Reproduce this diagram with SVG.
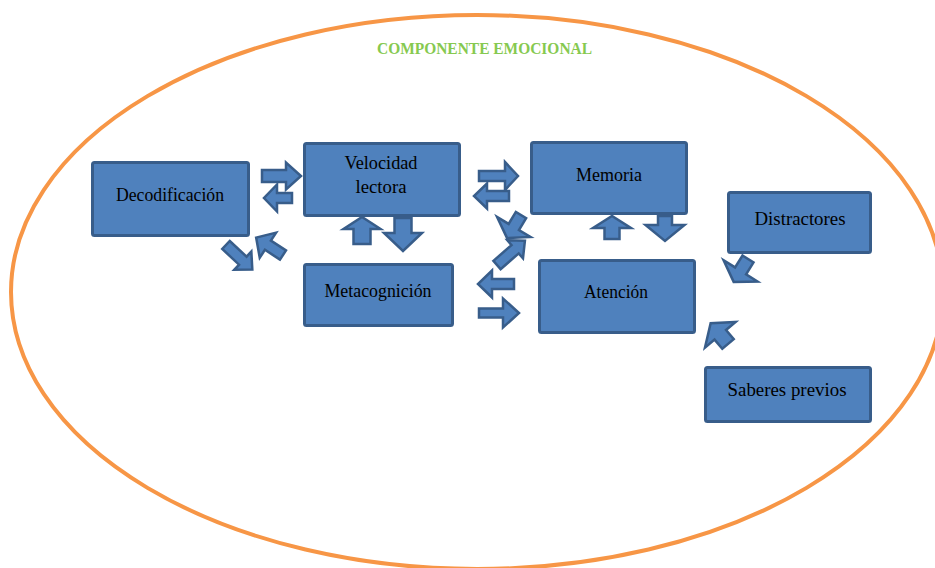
<svg xmlns="http://www.w3.org/2000/svg" width="935" height="568" viewBox="0 0 935 568">
<style>
.box{fill:#4f81bd;stroke:#385d8a;stroke-width:3}
.arr{fill:#4f81bd;stroke:#385d8a;stroke-width:2.5;stroke-linejoin:miter}
.lbl{font-family:"Liberation Serif","Times New Roman",serif;font-size:18px;fill:#000;text-anchor:middle}
.title{font-family:"Liberation Serif","Times New Roman",serif;font-size:17px;font-weight:bold;fill:#86c94f}
</style>
<rect x="0" y="0" width="935" height="568" fill="#ffffff"/>
<ellipse id="componente-emocional" cx="477" cy="292" rx="466" ry="277" fill="none" stroke="#f79646" stroke-width="4"/>
<text class="title" x="377" y="54" textLength="215" lengthAdjust="spacingAndGlyphs">COMPONENTE EMOCIONAL</text>

<g id="decodificacion">
<rect class="box" x="92.5" y="162.5" width="156" height="73" rx="2"/>
<text class="lbl" x="170" y="201" textLength="108" lengthAdjust="spacingAndGlyphs">Decodificación</text>
</g>
<g id="velocidad-lectora">
<rect class="box" x="304.5" y="143.5" width="155" height="72" rx="2"/>
<text class="lbl" x="381" y="169" textLength="73" lengthAdjust="spacingAndGlyphs">Velocidad</text>
<text class="lbl" x="381" y="193" textLength="51" lengthAdjust="spacingAndGlyphs">lectora</text>
</g>
<g id="metacognicion">
<rect class="box" x="304.5" y="264.5" width="148" height="61" rx="2"/>
<text class="lbl" x="378" y="297" textLength="107" lengthAdjust="spacingAndGlyphs">Metacognición</text>
</g>
<g id="memoria">
<rect class="box" x="531.5" y="142.5" width="155" height="71" rx="2"/>
<text class="lbl" x="609" y="181" textLength="66" lengthAdjust="spacingAndGlyphs">Memoria</text>
</g>
<g id="atencion">
<rect class="box" x="539.5" y="260.5" width="155" height="72" rx="2"/>
<text class="lbl" x="616" y="298" textLength="64" lengthAdjust="spacingAndGlyphs">Atención</text>
</g>
<g id="distractores">
<rect class="box" x="728.5" y="192.5" width="142" height="60" rx="2"/>
<text class="lbl" x="800" y="225" textLength="91" lengthAdjust="spacingAndGlyphs">Distractores</text>
</g>
<g id="saberes-previos">
<rect class="box" x="705.5" y="367.5" width="165" height="54" rx="2"/>
<text class="lbl" x="787" y="396" textLength="119" lengthAdjust="spacingAndGlyphs">Saberes previos</text>
</g>

<g id="connectors">
<!-- Decodificacion <-> Velocidad -->
<polygon class="arr" transform="translate(262,176)" points="0,-6 24,-6 24,-13.5 39,0 24,13.5 24,6 0,6"/>
<polygon class="arr" transform="translate(292,198) rotate(180)" points="0,-5 15,-5 15,-13.5 28,0 15,13.5 15,5 0,5"/>
<!-- Decodificacion <-> Metacognicion -->
<polygon class="arr" transform="translate(226,245) rotate(43)" points="0,-5.5 23,-5.5 23,-12.5 36,0 23,12.5 23,5.5 0,5.5"/>
<polygon class="arr" transform="translate(283,255) rotate(213)" points="0,-5.5 18,-5.5 18,-15 32,0 18,15 18,5.5 0,5.5"/>
<!-- Velocidad <-> Metacognicion -->
<polygon class="arr" transform="translate(362,244) rotate(-90)" points="0,-8.5 15,-8.5 15,-18.5 27,0 15,18.5 15,8.5 0,8.5"/>
<polygon class="arr" transform="translate(403,218) rotate(90)" points="0,-8.5 15,-8.5 15,-19 33,0 15,19 15,8.5 0,8.5"/>
<!-- Velocidad <-> Memoria -->
<polygon class="arr" transform="translate(479,176)" points="0,-5 26,-5 26,-14 39,0 26,14 26,5 0,5"/>
<polygon class="arr" transform="translate(509,196) rotate(180)" points="0,-5 22,-5 22,-12.5 35,0 22,12.5 22,5 0,5"/>
<!-- Memoria <-> Metacognicion (diagonal) -->
<polygon class="arr" transform="translate(521,215) rotate(121)" points="0,-6 14,-6 14,-19.5 27,0 14,19.5 14,6 0,6"/>
<polygon class="arr" transform="translate(497,265) rotate(-41)" points="0,-5.5 24,-5.5 24,-12 37,0 24,12 24,5.5 0,5.5"/>
<!-- Metacognicion <-> Atencion -->
<polygon class="arr" transform="translate(514,284) rotate(180)" points="0,-5 22,-5 22,-13.5 36,0 22,13.5 22,5 0,5"/>
<polygon class="arr" transform="translate(479,313)" points="0,-4.5 24,-4.5 24,-14.5 40,0 24,14.5 24,4.5 0,4.5"/>
<!-- Memoria <-> Atencion -->
<polygon class="arr" transform="translate(612,239) rotate(-90)" points="0,-7.5 11,-7.5 11,-19 23,0 11,19 11,7.5 0,7.5"/>
<polygon class="arr" transform="translate(665,216) rotate(90)" points="0,-7 9,-7 9,-19.5 25,0 9,19.5 9,7 0,7"/>
<!-- Distractores -> Atencion -->
<polygon class="arr" transform="translate(748,259) rotate(122)" points="0,-6.5 14,-6.5 14,-20 27,0 14,20 14,6.5 0,6.5"/>
<!-- Saberes previos -> Atencion -->
<polygon class="arr" transform="translate(728,344) rotate(230)" points="0,-7.5 12,-7.5 12,-20 27,0 12,20 12,7.5 0,7.5"/>
</g>
</svg>
